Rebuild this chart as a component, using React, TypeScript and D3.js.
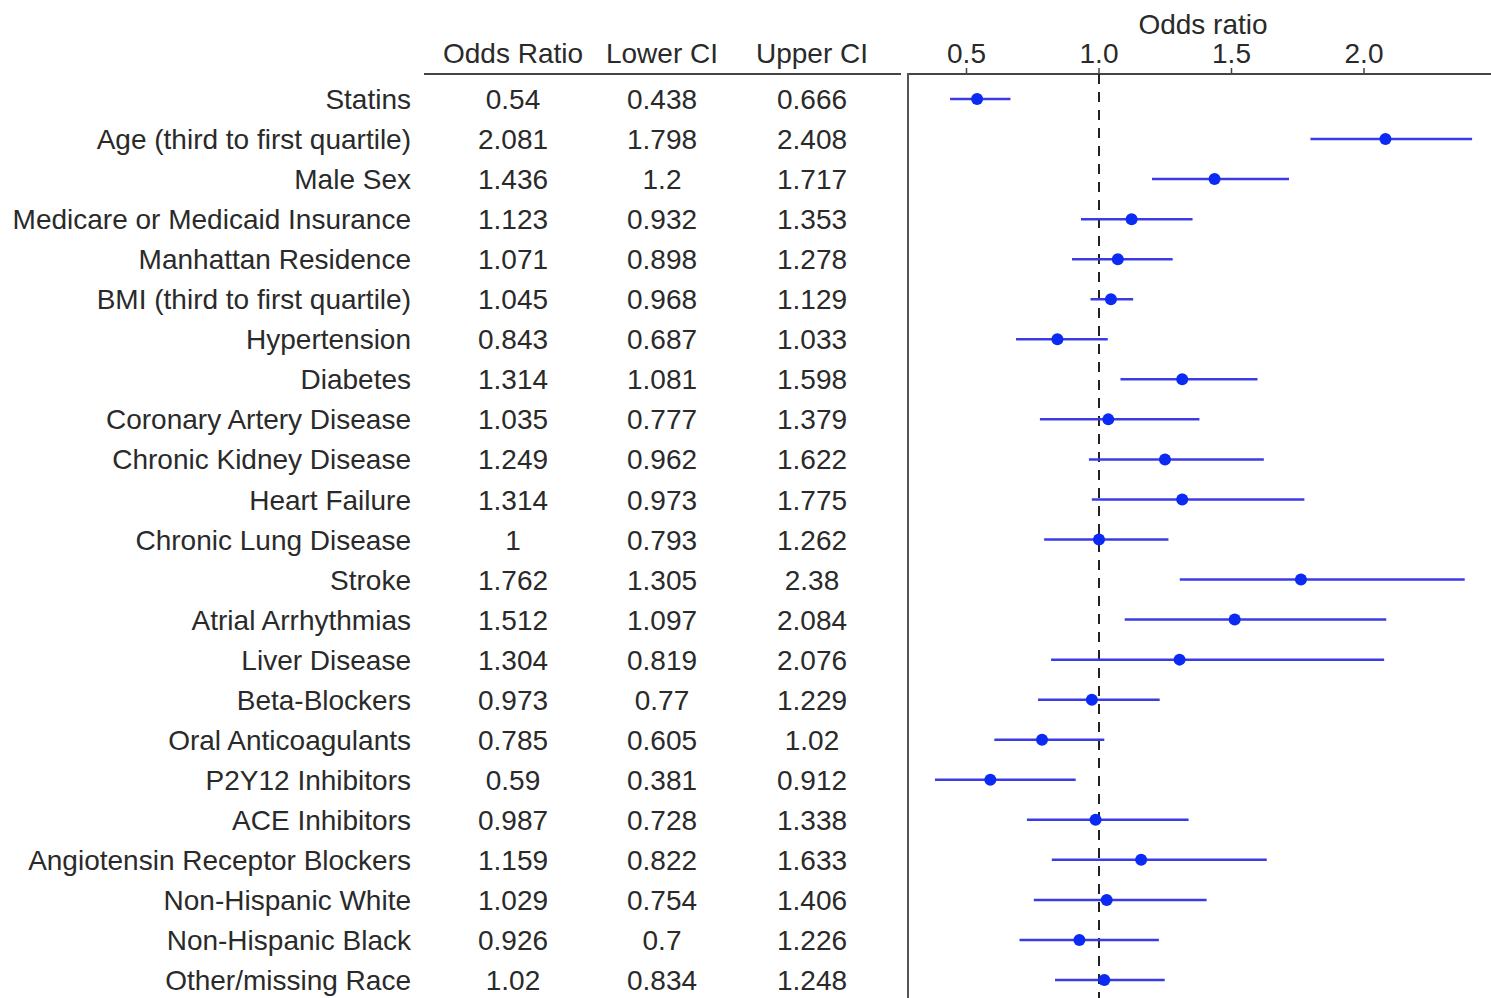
import React from 'react';
import * as d3 from 'd3';

const labels = [
  'Statins', 'Age (third to first quartile)', 'Male Sex', 'Medicare or Medicaid Insurance',
  'Manhattan Residence', 'BMI (third to first quartile)', 'Hypertension', 'Diabetes',
  'Coronary Artery Disease', 'Chronic Kidney Disease', 'Heart Failure', 'Chronic Lung Disease',
  'Stroke', 'Atrial Arrhythmias', 'Liver Disease', 'Beta-Blockers', 'Oral Anticoagulants',
  'P2Y12 Inhibitors', 'ACE Inhibitors', 'Angiotensin Receptor Blockers', 'Non-Hispanic White',
  'Non-Hispanic Black', 'Other/missing Race',
];
const oddsRatio = ['0.54', '2.081', '1.436', '1.123', '1.071', '1.045', '0.843', '1.314', '1.035', '1.249', '1.314', '1', '1.762', '1.512', '1.304', '0.973', '0.785', '0.59', '0.987', '1.159', '1.029', '0.926', '1.02'];
const lowerCI = ['0.438', '1.798', '1.2', '0.932', '0.898', '0.968', '0.687', '1.081', '0.777', '0.962', '0.973', '0.793', '1.305', '1.097', '0.819', '0.77', '0.605', '0.381', '0.728', '0.822', '0.754', '0.7', '0.834'];
const upperCI = ['0.666', '2.408', '1.717', '1.353', '1.278', '1.129', '1.033', '1.598', '1.379', '1.622', '1.775', '1.262', '2.38', '2.084', '2.076', '1.229', '1.02', '0.912', '1.338', '1.633', '1.406', '1.226', '1.248'];
const xTicks = [0.5, 1.0, 1.5, 2.0];

const W = 1491;
const H = 998;
const FONT = '"Liberation Sans", Arial, sans-serif';
const TEXT = '#2a2a2a';
const FS = 28;

export default function App() {
  const axisY = 74;
  const plotLeft = 908;

  const y = d3.scaleBand<number>()
    .domain(d3.range(labels.length))
    .range([79, 1000])
    .paddingInner(0);

  const x = d3.scaleLinear().domain([0.5, 1.0]).range([966.5, 1099]);

  const cols = [
    { title: 'Odds Ratio', cx: 513, vals: oddsRatio },
    { title: 'Lower CI', cx: 662, vals: lowerCI },
    { title: 'Upper CI', cx: 812, vals: upperCI },
  ];

  const rowY = (i: number) => (y(i) as number) + y.bandwidth() / 2;

  return (
    <div style={{ position: 'absolute', left: 0, top: 0 }}>
      <svg width={W} height={H} style={{ display: 'block', background: '#fff' }} fontFamily={FONT}>
        {/* table header */}
        {cols.map(c => (
          <text key={c.title} x={c.cx} y={63} textAnchor="middle" fontSize={FS} fill={TEXT}>{c.title}</text>
        ))}
        <line x1={424} x2={901} y1={axisY} y2={axisY} stroke="#444" strokeWidth={2} />

        {/* row labels and values */}
        {labels.map((l, i) => (
          <g key={l}>
            <text x={411} y={rowY(i)} dy="0.36em" textAnchor="end" fontSize={FS} fill={TEXT}>{l}</text>
            {cols.map(c => (
              <text key={c.title} x={c.cx} y={rowY(i)} dy="0.36em" textAnchor="middle" fontSize={FS} fill={TEXT}>{c.vals[i]}</text>
            ))}
          </g>
        ))}

        {/* plot axes */}
        <line x1={plotLeft} x2={W} y1={axisY} y2={axisY} stroke="#444" strokeWidth={2} />
        <line x1={plotLeft} x2={plotLeft} y1={axisY - 1} y2={H} stroke="#555" strokeWidth={2} />
        {xTicks.map(t => (
          <g key={t}>
            <line x1={x(t)} x2={x(t)} y1={axisY - 6} y2={axisY} stroke="#444" strokeWidth={1.5} />
            <text x={x(t)} y={63} textAnchor="middle" fontSize={FS} fill={TEXT}>{d3.format('.1f')(t)}</text>
          </g>
        ))}
        <text x={1203} y={34} textAnchor="middle" fontSize={FS} fill={TEXT}>Odds ratio</text>

        {/* reference line */}
        <line x1={x(1)} x2={x(1)} y1={axisY} y2={H} stroke="#222" strokeWidth={2} strokeDasharray="10,8" />

        {/* intervals */}
        {labels.map((l, i) => (
          <g key={l}>
            <line x1={x(+lowerCI[i])} x2={x(+upperCI[i])} y1={rowY(i)} y2={rowY(i)} stroke="#3b3be6" strokeWidth={2.5} />
            <circle cx={x(+oddsRatio[i])} cy={rowY(i)} r={6} fill="#0b2bf5" />
          </g>
        ))}
      </svg>
    </div>
  );
}
